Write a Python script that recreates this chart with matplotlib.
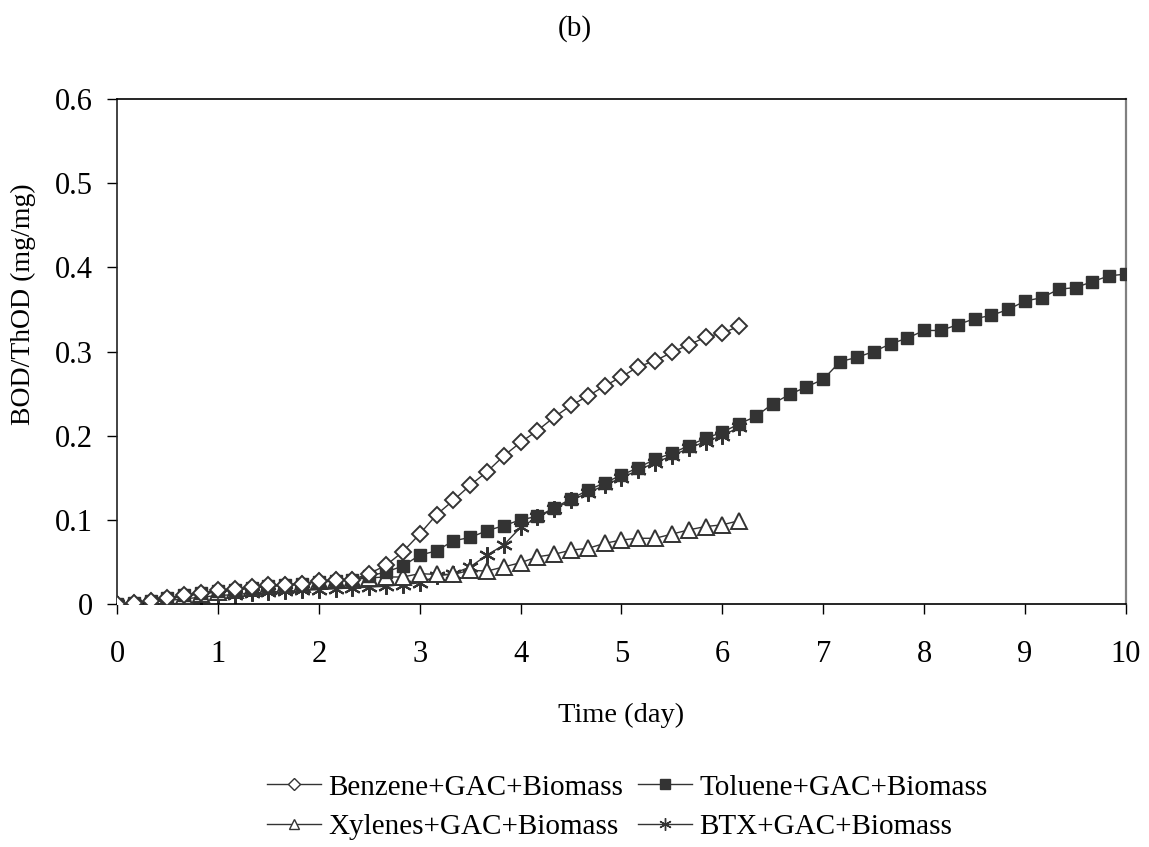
import numpy as np
import matplotlib
matplotlib.use("Agg")
import matplotlib.pyplot as plt
from matplotlib.lines import Line2D

plt.rcParams['font.family'] = ['Liberation Serif', 'DejaVu Serif']

# sampling every 4 hours (1/6 day)
step_day = 1 / 6

benzene = [0, 0.001, 0.004, 0.007, 0.010, 0.013, 0.016, 0.018, 0.020, 0.022,
           0.023, 0.024, 0.027, 0.028, 0.029, 0.036, 0.046, 0.062, 0.083, 0.106,
           0.123, 0.141, 0.157, 0.176, 0.192, 0.206, 0.222, 0.236, 0.247, 0.259,
           0.270, 0.282, 0.289, 0.299, 0.308, 0.317, 0.322, 0.330]

toluene = [0, 0.001, 0.004, 0.007, 0.011, 0.013, 0.015, 0.017, 0.019, 0.021,
           0.022, 0.024, 0.026, 0.027, 0.029, 0.033, 0.038, 0.045, 0.058, 0.063,
           0.075, 0.079, 0.087, 0.093, 0.100, 0.104, 0.114, 0.125, 0.135, 0.144,
           0.153, 0.162, 0.172, 0.179, 0.188, 0.197, 0.204, 0.214, 0.223, 0.238,
           0.249, 0.258, 0.267, 0.288, 0.293, 0.300, 0.309, 0.316, 0.325, 0.325,
           0.332, 0.339, 0.343, 0.350, 0.360, 0.364, 0.374, 0.376, 0.383, 0.390,
           0.392]

xylenes = [0, 0.001, 0.003, 0.006, 0.009, 0.012, 0.014, 0.016, 0.019, 0.021,
           0.022, 0.024, 0.027, 0.029, 0.029, 0.031, 0.032, 0.032, 0.036, 0.035,
           0.035, 0.040, 0.039, 0.044, 0.049, 0.056, 0.059, 0.064, 0.066, 0.072,
           0.076, 0.078, 0.078, 0.083, 0.088, 0.092, 0.094, 0.099]

btx = [0, 0, 0.002, 0.004, 0.006, 0.008, 0.010, 0.011, 0.013, 0.014,
       0.015, 0.016, 0.017, 0.018, 0.019, 0.020, 0.021, 0.023, 0.025, 0.033,
       0.036, 0.044, 0.058, 0.070, 0.091, 0.103, 0.113, 0.123, 0.132, 0.141,
       0.150, 0.159, 0.168, 0.176, 0.185, 0.193, 0.200, 0.210]

labels = ['Benzene+GAC+Biomass', 'Toluene+GAC+Biomass',
          'Xylenes+GAC+Biomass', 'BTX+GAC+Biomass']

line_col = '#333333'
star = (6, 2, 0)

fig = plt.figure(figsize=(11.49, 8.47), dpi=100)
ax = fig.add_axes([0.1018, 0.287, 0.8782, 0.596])

def days(vals):
    return np.arange(len(vals)) * step_day

# draw order: stars under squares
ax.plot(days(btx), btx, color=line_col, lw=1, marker=star, ms=12,
        mew=1.5, mec=line_col, zorder=2)
ax.plot(days(xylenes), xylenes, color=line_col, lw=1, marker='^', ms=11,
        mfc='white', mec=line_col, mew=1.4, zorder=3)
ax.plot(days(toluene), toluene, color=line_col, lw=1, marker='s', ms=9,
        mfc=line_col, mec=line_col, zorder=4)
ax.plot(days(benzene), benzene, color=line_col, lw=1, marker='D', ms=8,
        mfc='white', mec=line_col, mew=1.4, zorder=5)

ax.set_xlim(0, 10)
ax.set_ylim(0, 0.6)
ax.set_xticks(np.arange(0, 11, 1))
ax.set_yticks(np.arange(0, 0.61, 0.1))
ax.set_xticklabels([str(i) for i in range(11)])
ax.set_yticklabels(['0'] + ['%.1f' % v for v in np.arange(0.1, 0.61, 0.1)])
ax.tick_params(labelsize=22, direction='out', length=7.2, width=1, colors='black')
ax.tick_params(axis='x', pad=19)
ax.tick_params(axis='y', pad=10)

ax.spines['left'].set_color('#222222')
ax.spines['bottom'].set_color('black')
ax.spines['top'].set_color('black')
ax.spines['right'].set_color('#808080')
for s in ax.spines.values():
    s.set_linewidth(1.2)
ax.spines['right'].set_linewidth(1.6)

ax.set_xlabel('Time (day)', fontsize=20.5, labelpad=24)
ax.set_ylabel('BOD/ThOD (mg/mg)', fontsize=20, va='center')
ax.yaxis.set_label_coords(-0.093, 0.594)

fig.text(0.5, 0.966, '(b)', ha='center', va='center', fontsize=21)

# column-wise fill -> rows: Benzene/Toluene, Xylenes/BTX
handles = [
    Line2D([], [], color=line_col, lw=1, marker='D', ms=6, mfc='white', mec=line_col),
    Line2D([], [], color=line_col, lw=1, marker='^', ms=7, mfc='white', mec=line_col),
    Line2D([], [], color=line_col, lw=1, marker='s', ms=7, mfc=line_col, mec=line_col),
    Line2D([], [], color=line_col, lw=1, marker=star, ms=9, mec=line_col),
]
order = [labels[0], labels[2], labels[1], labels[3]]
fig.legend(handles, order, loc='center', bbox_to_anchor=(0.546, 0.047),
           ncol=2, frameon=False, fontsize=21, handlelength=1.85,
           handletextpad=0.25, columnspacing=0.5, labelspacing=0.45)

fig.savefig('out.png', dpi=100)
